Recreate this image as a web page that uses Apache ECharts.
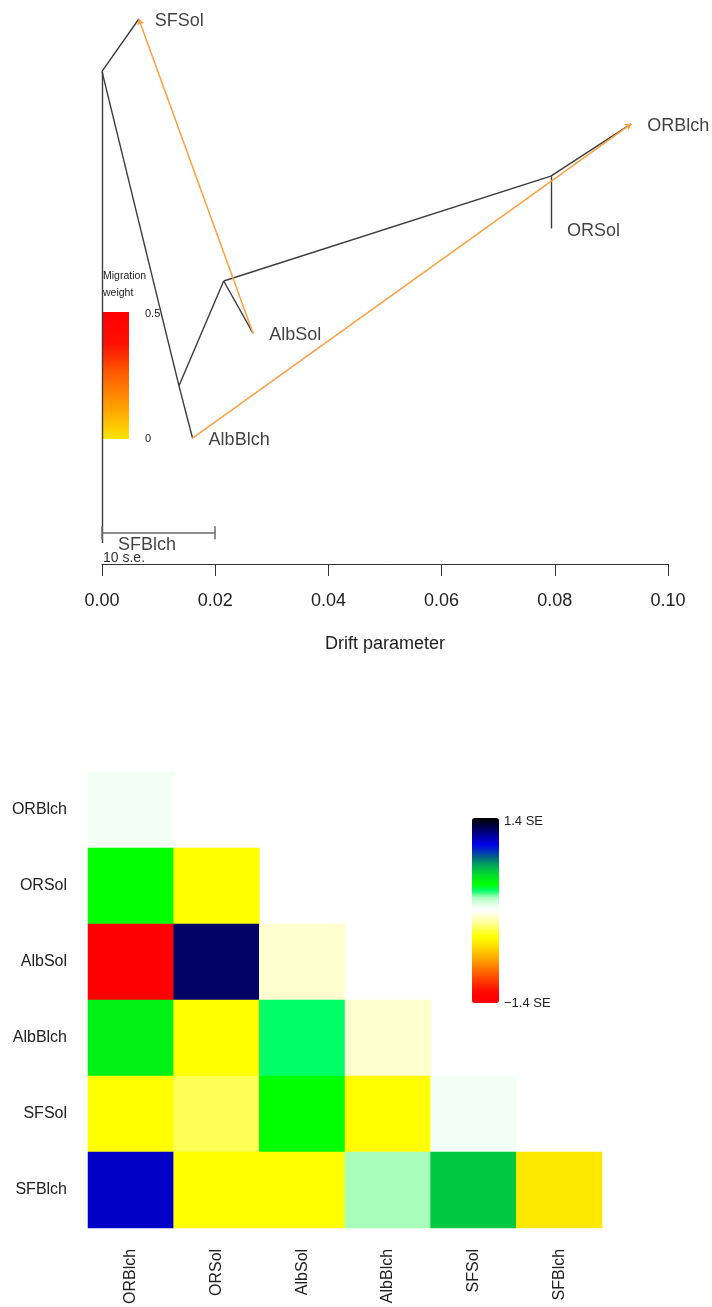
<!DOCTYPE html>
<html lang="en">
<head>
<meta charset="UTF-8">
<title>TreeMix</title>
<script src="https://cdn.jsdelivr.net/npm/echarts@6/dist/echarts.min.js"></script>
<style>
    html, body { margin: 0; padding: 0; background: #fff; }
    #main { width: 712px; height: 1307px; }
</style>
</head>
<body>
<div id="main"></div>
<script>
// tree: drift (x) and vertical slot (y) for every node
var nodeNames = ['root', 'SFSol', 'SFBlch', 'n1', 'AlbBlch', 'n2', 'AlbSol', 'n3', 'ORBlch', 'ORSol'];
var nodeDrift = [0, 0.0065, 0, 0.0136, 0.0160, 0.0215, 0.0267, 0.0793, 0.0935, 0.0793];
var nodeY = [5.5, 6, 1, 2.5, 2, 3.5, 3, 4.5, 5, 4];
var tipNames = ['SFSol', 'ORBlch', 'ORSol', 'AlbSol', 'AlbBlch', 'SFBlch'];
var treeEdges = [
    ['root', 'SFSol'], ['root', 'SFBlch'], ['root', 'n1'],
    ['n1', 'AlbBlch'], ['n1', 'n2'], ['n2', 'AlbSol'],
    ['n2', 'n3'], ['n3', 'ORBlch'], ['n3', 'ORSol']
];
var migFrom = ['AlbSol', 'AlbBlch'];
var migTo = ['SFSol', 'ORBlch'];
var scaleBarDrift = 0.02;   // = 10 s.e.
var scaleBarY = 1.095;

// residuals (lower triangle, SE units), rows/cols in popOrder
var popOrder = ['ORBlch', 'ORSol', 'AlbSol', 'AlbBlch', 'SFSol', 'SFBlch'];
var residRows = [
    [0.04],
    [0.40, -0.40],
    [-1.30, 1.22, -0.085],
    [0.46, -0.40, 0.30, -0.09],
    [-0.40, -0.27, 0.40, -0.40, 0.04],
    [1.06, -0.40, -0.40, 0.20, 0.60, -0.50]
];
var residMax = 1.4;
var residPalette = [
    '#FF0000', '#FF0000', '#FF1000', '#FF3000', '#FF5000', '#FF7000', '#FF9000',
    '#FFB000', '#FFCC00', '#FFE800', '#FFFF00', '#FFFF40', '#FFFF90', '#FFFFC8',
    '#FFFFFF',
    '#E0FFE8', '#A8FFBC', '#00FF66', '#00FF00', '#00E820', '#00C840', '#00A060',
    '#006880', '#0030C0', '#0000E8', '#0000B0', '#000070', '#000038', '#000000'
];

function pt(name) {
    var i = nodeNames.indexOf(name);
    return [nodeDrift[i], nodeY[i]];
}

var heatData = [];
residRows.forEach(function (row, i) {
    row.forEach(function (v, j) { heatData.push([j, i, v]); });
});

var FONT = 'Liberation Sans, Arial, sans-serif';
var chart = echarts.init(document.getElementById('main'));

var option = {
    animation: false,
    backgroundColor: '#fff',
    textStyle: { fontFamily: FONT },
    grid: [
        { left: 102, right: 44, top: 8.5, bottom: 743 },
        { left: 88, right: 110, top: 772, bottom: 74 }
    ],
    xAxis: [
        {
            gridIndex: 0, type: 'value', min: 0, max: 0.1, interval: 0.02,
            axisLine: { onZero: false, lineStyle: { color: '#333', width: 1 } },
            axisTick: { length: 12, lineStyle: { color: '#333' } },
            axisLabel: { fontSize: 18, color: '#222', margin: 28, fontFamily: FONT,
                formatter: function (v) { return v.toFixed(2); } },
            splitLine: { show: false },
            name: 'Drift parameter', nameLocation: 'middle', nameGap: 71,
            nameTextStyle: { fontSize: 18, color: '#222', fontFamily: FONT }
        },
        {
            gridIndex: 1, type: 'category', data: popOrder,
            axisLine: { show: false }, axisTick: { show: false },
            axisLabel: { rotate: 90, margin: 21, fontSize: 16, color: '#222', fontFamily: FONT },
            splitLine: { show: false }
        }
    ],
    yAxis: [
        { gridIndex: 0, type: 'value', min: 0.8, max: 6.1, show: false },
        {
            gridIndex: 1, type: 'category', data: popOrder, inverse: true,
            axisLine: { show: false }, axisTick: { show: false },
            axisLabel: { margin: 21, fontSize: 16, color: '#222', fontFamily: FONT },
            splitLine: { show: false }
        }
    ],
    visualMap: {
        type: 'continuous', seriesIndex: 0,
        min: -residMax, max: residMax,
        inRange: { color: residPalette },
        calculable: false, hoverLink: false,
        orient: 'vertical', left: 457, top: 803,
        itemWidth: 27, itemHeight: 185
    },
    series: [
        {
            type: 'heatmap', xAxisIndex: 1, yAxisIndex: 1,
            data: heatData,
            itemStyle: { borderWidth: 0 },
            emphasis: { disabled: true }
        },
        {
            type: 'lines', coordinateSystem: 'cartesian2d', xAxisIndex: 0, yAxisIndex: 0,
            lineStyle: { color: '#3c3c3c', width: 1.4, opacity: 1 },
            data: treeEdges.map(function (e) { return { coords: [pt(e[0]), pt(e[1])] }; })
        },
        {
            type: 'lines', coordinateSystem: 'cartesian2d', xAxisIndex: 0, yAxisIndex: 0,
            symbol: ['none', 'arrow'], symbolSize: 6,
            lineStyle: { color: '#FFA040', width: 1.5, opacity: 1 },
            data: migFrom.map(function (f, i) { return { coords: [pt(f), pt(migTo[i])] }; })
        },
        {
            type: 'lines', coordinateSystem: 'cartesian2d', xAxisIndex: 0, yAxisIndex: 0,
            lineStyle: { color: '#6a6a6a', width: 1.5, opacity: 1 },
            data: [
                { coords: [[0, scaleBarY], [scaleBarDrift, scaleBarY]] },
                { coords: [[0, scaleBarY - 0.06], [0, scaleBarY + 0.065]] },
                { coords: [[scaleBarDrift, scaleBarY - 0.06], [scaleBarDrift, scaleBarY + 0.065]] }
            ]
        },
        {
            type: 'scatter', xAxisIndex: 0, yAxisIndex: 0,
            symbolSize: 0.1, itemStyle: { color: 'rgba(0,0,0,0)' },
            label: {
                show: true, position: 'right', distance: 16, offset: [0, 2],
                fontSize: 18, color: '#111', fontFamily: FONT,
                formatter: function (p) { return p.data[2]; }
            },
            data: tipNames.map(function (n) { var p = pt(n); return [p[0], p[1], n]; })
        }
    ],
    graphic: [
        { type: 'text', x: 103, y: 276, style: { text: 'Migration', font: '10.5px ' + FONT, fill: '#222', verticalAlign: 'middle' } },
        { type: 'text', x: 103, y: 293, style: { text: 'weight', font: '10.5px ' + FONT, fill: '#222', verticalAlign: 'middle' } },
        {
            type: 'rect', shape: { x: 102, y: 312, width: 27, height: 127 },
            style: {
                fill: new echarts.graphic.LinearGradient(0, 0, 0, 1, [
                    { offset: 0, color: '#FF0000' },
                    { offset: 0.25, color: '#FF1000' },
                    { offset: 0.5, color: '#FF6000' },
                    { offset: 0.75, color: '#FFA000' },
                    { offset: 1, color: '#FFE400' }
                ])
            }
        },
        { type: 'text', x: 145, y: 314, style: { text: '0.5', font: '11px ' + FONT, fill: '#222', verticalAlign: 'middle' } },
        { type: 'text', x: 145, y: 439, style: { text: '0', font: '11px ' + FONT, fill: '#222', verticalAlign: 'middle' } },
        { type: 'text', x: 103, y: 558, style: { text: '10 s.e.', font: '14px ' + FONT, fill: '#333', verticalAlign: 'middle' } },
        { type: 'text', x: 504, y: 821, style: { text: '1.4 SE', font: '13px ' + FONT, fill: '#222', verticalAlign: 'middle' } },
        { type: 'text', x: 504, y: 1003, style: { text: '\u22121.4 SE', font: '13px ' + FONT, fill: '#222', verticalAlign: 'middle' } }
    ]
};

chart.setOption(option);
</script>
</body>
</html>
